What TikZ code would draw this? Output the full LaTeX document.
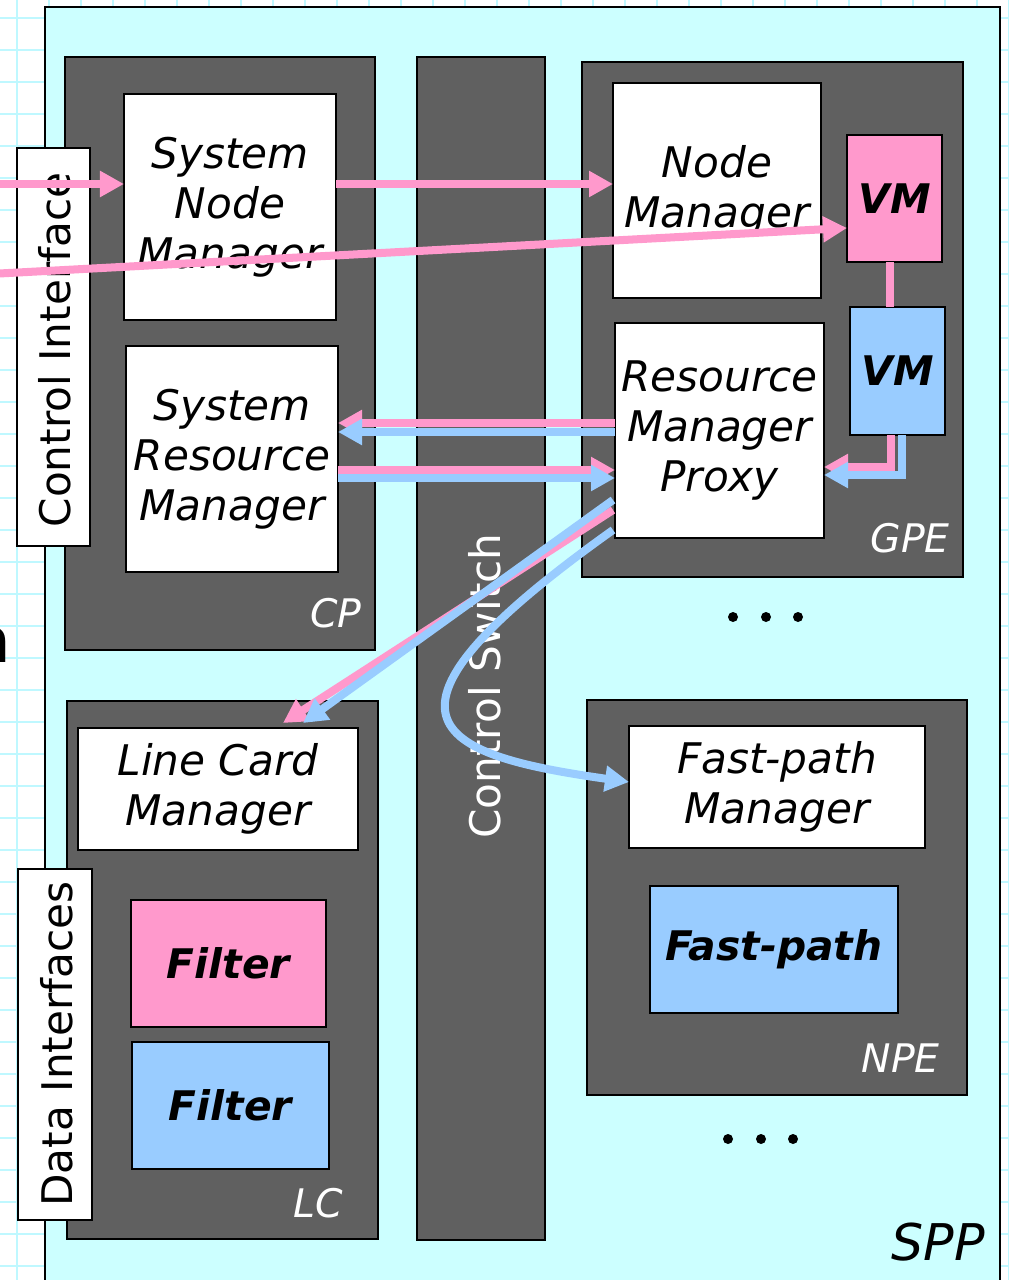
\documentclass[tikz,border=0pt]{standalone}
\usepackage{fontspec}
\setmainfont{DejaVu Sans}
\usetikzlibrary{arrows.meta,calc}
\definecolor{cyb}{HTML}{CCFFFF}
\definecolor{gridc}{HTML}{BFF8FF}
\definecolor{dk}{HTML}{606060}
\definecolor{pk}{HTML}{FF99CC}
\definecolor{bl}{HTML}{99CCFF}
\newcommand\fntA{\fontsize{30pt}{35.6pt}\selectfont\itshape}
\newcommand\fntB{\fontsize{29pt}{35pt}\selectfont\bfseries\itshape}
\newcommand\fntC{\fontsize{28pt}{34pt}\selectfont\itshape}
\newcommand\fntD{\fontsize{30pt}{36pt}\selectfont}
\newcommand\fntE{\fontsize{36pt}{42pt}\selectfont\itshape}
\begin{document}
\begin{tikzpicture}[x=0.025cm,y=-0.025cm,
  base/.style={inner sep=0pt,outer sep=0pt,line width=1.6pt,draw=black},
  sz/.style 2 args={minimum width=#1*0.025cm,minimum height=#2*0.025cm},
  blk/.style={base,fill=dk},
  wbox/.style={base,fill=white,align=center,font=\fntA},
  pbox/.style={base,fill=pk,align=center,font=\fntB},
  bbox/.style={base,fill=bl,align=center,font=\fntB},
  lbl/.style={text=white,font=\fntC,anchor=base east,inner sep=0pt},
  rlbl/.style={rotate=90,anchor=base,font=\fntD,inner sep=0pt},
  pkw/.style={draw=pk,line width=5.7pt},
  blw/.style={draw=bl,line width=5.7pt},
  tipA/.style={-{Triangle[length=0.6cm,width=0.62cm]}},
]
\useasboundingbox (0,0) rectangle (1008,1280);
\fill[white] (0,0) rectangle (1008,1280);
\foreach \i in {0,...,31} \draw[gridc,line width=2pt] (17+32*\i,0) -- (17+32*\i,1280);
\foreach \j in {0,...,39} \draw[gridc,line width=2pt] (0,18+32*\j) -- (1008,18+32*\j);
\draw[fill=cyb,line width=1.6pt] (45,7) rectangle (1000,1300);

% partial text at left edge
\node[anchor=base east,font=\fontsize{44pt}{44pt}\selectfont\bfseries,inner sep=0pt] (cut) at (11,662) {n};

% big blocks
\node[blk,sz={310}{593}] (CP) at (220,353.5) {};
\node[blk,sz={128}{1183}] (CS) at (481,648.5) {};
\node[blk,sz={381}{515}] (GPE) at (772.5,319.5) {};
\node[blk,sz={380}{395}] (NPE) at (777,897.5) {};
\node[blk,sz={311}{538}] (LC) at (222.5,970) {};

% inner boxes
\node[wbox,sz={212}{226}] (SNM) at (230,207) {System\\Node\\Manager};
\node[wbox,sz={212}{226}] (SRM) at (232,459) {System\\Resource\\Manager};
\node[wbox,sz={208}{215}] (NM) at (717,190.5) {Node\\Manager};
\node[pbox,sz={95}{127}] (VMp) at (894.5,198.5) {VM};
\node[bbox,sz={95}{128}] (VMb) at (897.5,371) {VM};
\node[wbox,sz={209}{215}] (RMP) at (719.5,430.5) {Resource\\Manager\\Proxy};
\node[wbox,sz={296}{122}] (FPM) at (777,787) {Fast-path\\Manager};
\node[bbox,sz={248}{127}] (FP) at (774,949.5) {Fast-path};
\node[wbox,sz={280}{122}] (LCM) at (218,789) {Line Card\\Manager};
\node[pbox,sz={195}{127}] (FLp) at (228.5,963.5) {Filter};
\node[bbox,sz={197}{127}] (FLb) at (230.5,1105.5) {Filter};

% interface label boxes
\node[base,fill=white,sz={73}{398}] (CI) at (53.5,347) {};
\node[base,fill=white,sz={74}{351}] (DI) at (55,1044.5) {};
\node[rlbl] (CIt) at (70,350) {Control Interface};
\node[rlbl] (DIt) at (72,1044) {Data Interfaces};
\node[rlbl,text=white] (CSt) at (500,686) {Control Switch};

% block labels
\node[lbl] (CPl) at (362,627) {CP};
\node[lbl] (GPEl) at (950,552) {GPE};
\node[lbl] (NPEl) at (940,1072) {NPE};
\node[lbl] (LCl) at (343,1217) {LC};
\node[lbl,text=black,font=\fntE] (SPPl) at (985,1260) {SPP};

% ellipses
\foreach \x in {733,766,798} \fill (\x,617) circle[radius=5];
\foreach \x in {728,761,793} \fill (\x,1139) circle[radius=5];

% connectors
\coordinate (inA) at (-10,184);
\coordinate (inB) at (-10,274);
\draw[pkw,tipA] (inA) -- (inA -| SNM.west);
\draw[pkw,tipA] (SNM.east |- inA) -- (NM.west |- inA);
\draw[pkw,tipA] (inB) -- ($(VMp.west)+(0,29.5)$);
\coordinate (vp) at ($(VMp.south)+(-4.5,0)$);
\draw[pkw] (vp) -- (vp |- VMb.north);

\coordinate (r1) at ($(RMP.west)+(0,-7.5)$);
\coordinate (r2) at ($(RMP.west)+(0,1.5)$);
\draw[pkw,tipA] (r1) -- (r1 -| SRM.east);
\draw[blw,tipA] (r2) -- (r2 -| SRM.east);
\coordinate (s1) at ($(SRM.east)+(0,11)$);
\coordinate (s2) at ($(SRM.east)+(0,19)$);
\draw[pkw,tipA] (s1) -- (s1 -| RMP.west);
\draw[blw,tipA] (s2) -- (s2 -| RMP.west);

\coordinate (v1) at ($(VMb.south)+(-6.5,0)$);
\coordinate (v2) at ($(VMb.south)+(4.5,0)$);
\coordinate (e1) at ($(RMP.east)+(0,36.5)$);
\coordinate (e2) at ($(RMP.east)+(0,44.5)$);
\draw[pkw,tipA] (v1) |- (e1);
\draw[blw,tipA] (v2) |- (e2);

\coordinate (d1) at ($(RMP.west)+(-2,79.5)$);
\coordinate (d2) at ($(RMP.west)+(-2,69.5)$);
\draw[pkw,tipA] (d1) -- ($(LCM.north)+(65,-5)$);
\draw[blw,tipA] (d2) -- ($(LCM.north)+(85,-5)$);
\coordinate (c0) at ($(RMP.west)+(-2,99.5)$);
\draw[blw,tipA] (c0) .. controls +(-264,188) and +(-195,-27.5) .. ($(FPM.west)+(0,-5)$);
\end{tikzpicture}
\end{document}
